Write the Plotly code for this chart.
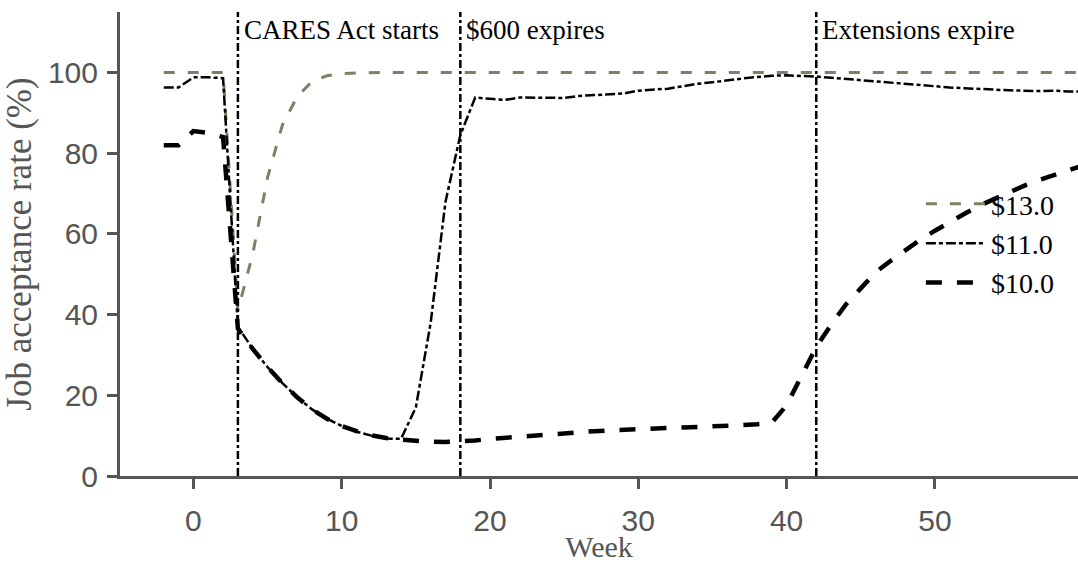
import plotly.graph_objects as go

weeks = list(range(-2, 61))

rate_13 = [100, 100, 100, 100, 100, 41, 55, 74, 87, 94, 97.8, 99.2, 99.7, 99.9] + [100] * 49

rate_11 = [96.3, 96.3, 98.8, 98.8, 98.6, 37, 31.5, 27, 23, 19.5, 16.5, 14.2, 12.4, 11.0,
           10.0, 9.3, 9.2, 17, 38, 68, 84.5, 93.8, 93.5, 93.2, 93.8, 93.8, 93.7, 93.7,
           94.2, 94.4, 94.5, 94.8, 95.5, 95.7, 96.0, 96.6, 97.2, 97.6, 98.1, 98.5, 98.9,
           99.2, 99.3, 99.2, 99.0, 98.7, 98.4, 98.1, 97.7, 97.4, 97.1, 96.8, 96.5, 96.3,
           96.1, 95.9, 95.8, 95.6, 95.5, 95.4, 95.5, 95.3, 95.3]

rate_10 = [82, 82, 85.5, 85, 84, 36.5, 31.5, 27, 23, 19.5, 16.5, 14.2, 12.4, 11.1,
           10.1, 9.4, 9.0, 8.7, 8.5, 8.4, 8.5, 8.8, 9.2, 9.5, 9.8, 10.1, 10.4, 10.7,
           10.9, 11.1, 11.3, 11.5, 11.6, 11.7, 11.9, 12.0, 12.1, 12.3, 12.4, 12.6, 12.8,
           13.2, 17.5, 25, 32, 37.5, 42.5, 46.5, 50.5, 53.3, 56, 58.5, 60.8, 63, 65,
           67, 68.7, 70.3, 71.9, 73.3, 74.6, 75.8, 77]

series_names = ["$13.0", "$11.0", "$10.0"]

event_weeks = [3, 18, 42]
event_labels = ["CARES Act starts", "$600 expires", "Extensions expire"]

x_ticks = [0, 10, 20, 30, 40, 50]
y_ticks = [0, 20, 40, 60, 80, 100]

AX = "#555555"
SERIF = "Liberation Serif"
SANS = "Liberation Sans"

fig = go.Figure()
fig.add_trace(go.Scatter(x=weeks, y=rate_13, mode="lines", name=series_names[0],
                         line=dict(color="#7f7f66", width=3, dash="11px,13px")))
fig.add_trace(go.Scatter(x=weeks, y=rate_11, mode="lines", name=series_names[1],
                         line=dict(color="black", width=2.5, dash="10px,3px,4px,3px")))
fig.add_trace(go.Scatter(x=weeks, y=rate_10, mode="lines", name=series_names[2],
                         line=dict(color="black", width=4.5, dash="16px,15px")))

for wk, lab in zip(event_weeks, event_labels):
    fig.add_shape(type="line", xref="x", yref="paper", x0=wk, x1=wk, y0=0, y1=1,
                  line=dict(color="black", width=2.5, dash="8px,3px,3px,3px"), layer="above")
    fig.add_annotation(x=wk, y=110.5, xref="x", yref="y", text=lab, showarrow=False,
                       xanchor="left", yanchor="middle", xshift=4,
                       font=dict(family=SERIF, size=27, color="black"))

fig.update_layout(
    width=1078, height=563, autosize=False,
    margin=dict(l=120, r=0, t=12, b=87),
    paper_bgcolor="white", plot_bgcolor="white",
    showlegend=True,
    legend=dict(x=0.836, y=0.64, xanchor="left", yanchor="top",
                bgcolor="rgba(0,0,0,0)", borderwidth=0, itemwidth=60,
                font=dict(family=SERIF, size=28, color="black"),
                tracegroupgap=0),
    xaxis=dict(range=[-4.95, 59.65], tickvals=x_ticks, showgrid=False, zeroline=False,
               showline=True, linecolor=AX, linewidth=3, ticks="outside", ticklen=10,
               tickwidth=3, tickcolor=AX, ticklabelstandoff=6,
               tickfont=dict(family=SANS, size=30, color=AX),
               title=dict(text="Week", standoff=4,
                          font=dict(family=SERIF, size=30, color=AX))),
    yaxis=dict(range=[0, 115], tickvals=y_ticks, showgrid=False, zeroline=False,
               showline=True, linecolor=AX, linewidth=3, ticks="outside", ticklen=10,
               tickwidth=3, tickcolor=AX, ticklabelstandoff=3,
               tickfont=dict(family=SANS, size=30, color=AX),
               title=dict(text="Job acceptance rate (%)", standoff=10,
                          font=dict(family=SERIF, size=35, color=AX))),
)

fig.write_html("out.html", config={"displayModeBar": False},
               post_script="document.body.style.margin='0';")
